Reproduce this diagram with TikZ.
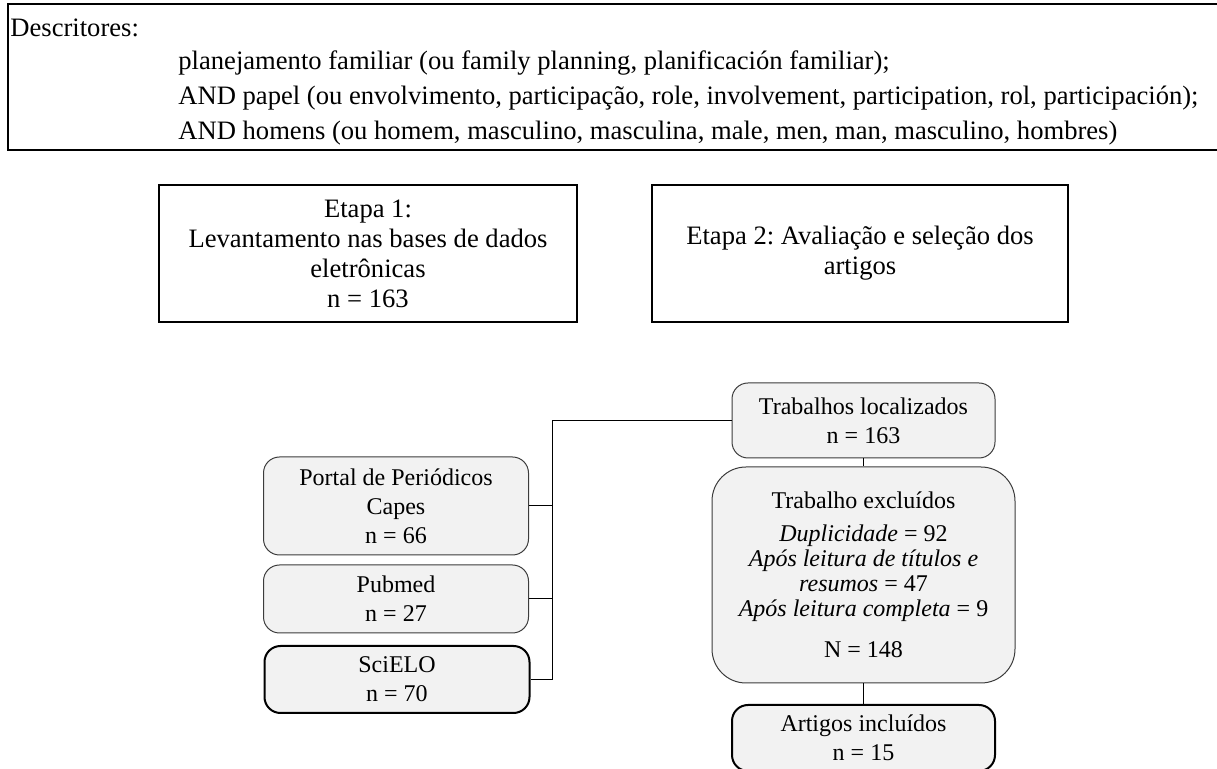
\documentclass[tikz,border=0pt]{standalone}
\usepackage{fontspec}
\setmainfont{Liberation Serif}
\usepackage{tikz}
\usetikzlibrary{positioning, calc}
\definecolor{boxgray}{RGB}{242,242,242}
\definecolor{edgegray}{RGB}{60,60,60}
\frenchspacing

\begin{document}
\begin{tikzpicture}[x=0.5pt, y=-0.5pt,
    txt/.style={font=\fontsize{13.3}{17.5}\selectfont, inner sep=0pt},
    etapa/.style={rectangle, draw, line width=1pt, minimum width=209pt, minimum height=68.5pt,
                  align=center, font=\fontsize{13.3}{15}\selectfont, inner sep=0pt},
    flow/.style={rectangle, rounded corners=8pt, draw=edgegray, line width=0.5pt, fill=boxgray,
                 align=center, font=\fontsize{12}{14.5}\selectfont, inner sep=0pt},
    flowbold/.style={flow, draw=black, line width=1pt},
    link/.style={draw, line width=0.5pt}]

\useasboundingbox (0,0) rectangle (1217,769);

%% Descritores frame
\draw[line width=1pt] (1217,4) -- (8,4) -- (8,150) -- (1217,150);
\node[txt, anchor=west] (dlbl) at (10,28) {Descritores:};
\node[txt, anchor=west, align=left] (dlist) at (178,98)
    {planejamento familiar (ou family planning, planificación familiar);\\
     AND papel (ou envolvimento, participação, role, involvement, participation, rol, participación);\\
     AND homens (ou homem, masculino, masculina, male, men, man, masculino, hombres)};

%% Stages
\node[etapa] (et1) at (368,253.5) {Etapa 1:\\Levantamento nas bases de dados\\eletrônicas\\n = 163};
\node[etapa, minimum width=208pt] (et2) at (860,253.5) {Etapa 2: Avaliação e seleção dos\\artigos};

%% Databases
\node[flow, minimum width=132.5pt, minimum height=49pt] (portal) at (396,506)
    {Portal de Periódicos\\Capes\\n = 66};
\node[flow, minimum width=132.5pt, minimum height=34pt] (pubmed) at (396,599)
    {Pubmed\\n = 27};
\node[flowbold, minimum width=132.5pt, minimum height=33.5pt] (scielo) at (397,679.5)
    {SciELO\\n = 70};

%% Selection
\node[flow, minimum width=131.5pt, minimum height=37.5pt] (local) at (863.5,420.5)
    {Trabalhos localizados\\n = 163};
\node[flow, rounded corners=17pt, minimum width=151.5pt, minimum height=108pt,
      font=\fontsize{12}{12.5}\selectfont] (excl) at (863.5,575)
    {Trabalho excluídos\\[4pt]\textit{Duplicidade} = 92\\\textit{Após leitura de títulos e}\\
     \textit{resumos} = 47\\\textit{Após leitura completa} = 9\\[8pt]N = 148};
\node[flowbold, minimum width=131.5pt, minimum height=33pt] (incl) at (863.5,738)
    {Artigos incluídos\\n = 15};

%% Connectors
\coordinate (bus) at (552,420.5);
\draw[link] (portal.east) -- (portal.east -| bus);
\draw[link] (pubmed.east) -- (pubmed.east -| bus);
\draw[link] (scielo.east) -- (scielo.east -| bus) -- (bus) -- (local.west);
\draw[link] (local.south) -- (excl.north);
\draw[link] (excl.south) -- (incl.north);

\end{tikzpicture}
\end{document}
